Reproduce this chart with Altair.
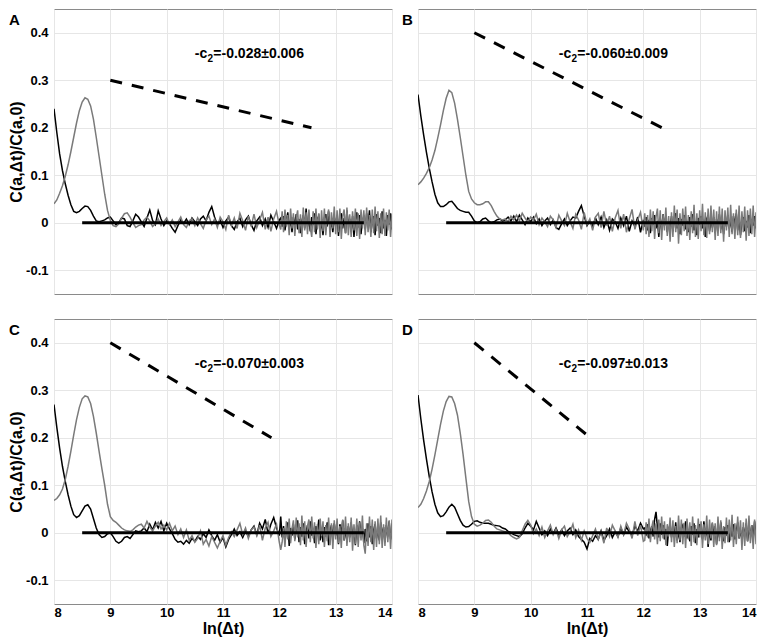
import altair as alt
import pandas as pd

FONT = "Liberation Sans"

# sampling positions along ln(dt)
X_SEG1 = [round(8.00 + 0.05 * i, 3) for i in range(31)]
X_SEG2 = [round(9.55 + 0.05 * i, 3) for i in range(50)]
X_SEG3 = [round(12.025 + 0.025 * i, 3) for i in range(80)]
X_GRID = X_SEG1 + X_SEG2 + X_SEG3

X_TICKS = [8, 9, 10, 11, 12, 13, 14]
Y_TICKS = [-0.1, 0, 0.1, 0.2, 0.3, 0.4]

# curve values, in thousandths
A_BLACK_1 = [240,190,145,110,82,58,38,24,21,24, 30,35,34,26,14,4,2,4,6,10, 12,4,-4,0,10,8,-6,-8,4,18, 12]
A_GRAY_1 = [40,48,62,78,98,122,150,180,210,236, 254,263,260,246,218,180,140,100,60,26, 5,-6,-8,-2,10,19,21,12,0,-10, -6]
A_BLACK_2 = [2,-8,10,27,5,-4,25,8,-6,4, -2,-12,-20,-6,6,-2,8,-4,10,2, -6,8,14,4,22,34,12,-4,6,-10, 4,12,-6,-14,2,10,-8,6,14,-4, -16,4,12,-6,8,-10,16,2,-12,6]
A_GRAY_2 = [-4,6,12,4,-8,-2,8,-6,2,10, -4,6,-8,2,12,-4,-10,4,8,-6, 10,-2,-12,6,14,-4,8,-10,12,2, -14,16,-6,10,-12,20,4,-16,14,-8, 18,-10,6,22,-14,12,-18,8,24,-6]
A_BLACK_3 = [10,-8,14,-16,4,22,-10,6,-20,12, -6,18,-14,8,-22,4,16,-12,30,-8, 6,-18,12,-4,20,-24,8,14,-16,2, -26,10,18,-8,24,-14,4,-20,12,-6,
             16,-28,6,20,-12,10,-22,26,-4,8, -18,14,-30,4,22,-10,16,-24,6,12, -14,20,-8,26,-20,2,14,-26,18,-6, 10,-22,24,-12,6,-28,16,-4,20,-14]
A_GRAY_3 = [-14,24,-20,28,-8,16,-26,30,-12,20, -28,10,26,-22,18,-30,32,-16,22,-24, 28,-10,-30,24,-20,30,-14,20,-32,26, -18,30,-26,12,28,-30,22,-12,34,-24,
            26,-20,30,-34,14,28,-22,32,-26,18, -30,24,-16,30,-28,20,-34,28,-12,26, -26,32,-20,16,-30,28,-22,34,-18,24, -32,20,-24,30,-28,22,-16,28,-30,18]

B_BLACK_1 = [270,225,185,148,115,86,60,42,34,34, 38,44,45,38,30,26,24,22,22,14, 4,0,2,8,10,4,0,2,6,8, 4]
B_GRAY_1 = [80,86,94,104,116,132,152,178,206,236, 262,279,274,252,218,180,140,100,66,50, 42,38,38,40,44,44,36,24,14,8, 6]
B_BLACK_2 = [6,12,4,14,2,16,6,-4,10,2, 12,-2,8,-6,4,10,-4,6,-10,-14, -2,8,-6,4,12,10,24,36,14,-6, 4,-8,10,-4,12,-10,6,-16,8,2, -12,10,-6,14,-18,4,-8,12,-20,6]
B_GRAY_2 = [8,2,14,6,16,4,20,10,2,12, 6,18,-4,10,2,-8,14,6,-10,16, 4,-6,20,2,-12,18,6,-14,22,-4, 8,-16,12,20,-10,24,-6,14,-18,10, 26,-12,18,-20,8,28,-14,6,22,-16]
B_BLACK_3 = [-8,12,-16,6,-22,10,-4,16,-12,4, -30,8,-14,18,-6,12,-20,4,-10,14, -18,6,20,-12,10,-24,8,-6,16,-14, 4,-20,12,-8,18,-16,2,-26,10,-4,
             14,-12,6,-30,8,16,-18,4,-10,12, -22,8,-6,18,-14,4,-24,10,-8,16, -12,6,-20,14,-4,20,-16,8,-26,2, 12,-18,4,-10,16,-22,8,-6,14,-12]
B_GRAY_3 = [20,-24,16,-30,28,-18,24,-34,12,30, -22,26,-36,18,-16,32,-28,14,-40,22, -30,36,-20,28,-44,20,-26,30,-18,34, -28,16,-36,24,-22,38,-30,20,-34,26,
            -18,40,-26,22,-32,30,-24,36,-20,28, -36,24,-28,34,-22,30,-40,26,-16,32, -30,38,-24,20,-34,28,-26,36,-32,24, -20,34,-38,26,-28,30,-24,36,-30,22]

C_BLACK_1 = [270,222,178,140,108,80,56,38,32,36, 46,56,59,50,30,10,-4,-10,-8,-2, 0,-8,-18,-22,-18,-10,-8,-12,-4,4, 2]
C_GRAY_1 = [68,72,80,92,112,140,172,206,238,264, 282,288,286,272,245,210,172,135,100,60, 34,26,22,16,10,6,4,3,6,12, 16]
C_BLACK_2 = [4,10,2,18,6,22,10,24,4,20, 8,-2,-14,-20,-18,-24,-16,-22,-12,-18, -8,-14,-2,-10,6,-6,-16,-4,-20,-10, -30,-14,-4,8,-6,2,-10,4,-8,6, 14,-4,20,8,28,-2,18,32,10,-6]
C_GRAY_2 = [18,10,24,12,4,14,22,8,16,6, 20,4,14,-4,8,-10,6,-16,-6,-20, -12,4,-24,-14,-28,-8,-20,-32,-18,-6, -26,-10,2,-8,6,20,-4,10,-12,6, 12,-6,16,-16,10,22,-8,4,18,-20]
C_BLACK_3 = [34,-10,14,-18,6,22,-28,10,-6,18, -14,4,26,-20,12,-8,20,-24,2,16, -12,24,-6,10,-22,14,-4,28,-16,6, -20,12,-8,22,-26,4,16,-12,20,-6,
             10,-24,18,-4,26,-16,8,-20,14,-10, 22,-8,4,-26,16,-14,24,-6,10,-22, 8,-18,20,-10,14,-24,6,18,-12,4, -16,22,-6,12,-20,16,-8,24,-14,6]
C_GRAY_3 = [-36,-20,10,-30,24,-14,30,-22,8,26, -18,32,-10,20,-26,36,-16,24,-30,14, 28,-20,34,-12,22,-32,18,-24,30,-8, 24,-30,16,-18,32,-26,20,-34,26,-14,
            30,-22,14,-32,28,-16,34,-28,20,-20, 32,-38,18,-24,30,-30,22,-16,36,-26, -44,20,-28,34,-20,28,-36,24,-30,30, -24,36,-32,18,-28,32,-20,26,-34,28]

D_BLACK_1 = [290,240,195,155,118,86,60,42,34,36, 44,54,60,54,40,26,16,12,13,18, 24,25,22,20,20,20,18,16,15,14, 10]
D_GRAY_1 = [53,60,72,88,108,134,164,196,228,256, 276,287,286,272,248,210,165,115,66,34, 18,14,16,20,26,27,22,14,8,6, 4]
D_BLACK_2 = [8,3,0,-4,-6,-8,-2,10,20,14, 6,24,10,-4,4,-6,8,-2,10,-4, 6,-6,4,10,-4,6,-8,-14,-20,-34, -12,-18,-6,-14,4,-16,-6,8,-10,2, -8,10,-4,12,2,-6,14,4,20,8]
D_GRAY_2 = [2,0,-6,-10,-13,-10,4,18,26,16, -2,8,-6,12,-10,4,16,-4,8,-12, 6,14,-8,2,18,-10,6,-16,4,-12, -20,-6,8,-14,2,-22,10,-8,16,4, -10,14,-4,20,8,-12,24,-6,16,-18]
D_BLACK_3 = [10,-6,18,-12,4,14,-8,28,44,12, -10,20,-4,16,-14,8,-28,6,18,-10, 12,-6,22,-16,4,-20,10,16,-8,24, -12,6,-18,14,-4,20,-22,8,-10,18,
             4,-14,24,-8,12,-30,6,-16,20,-6, 14,-24,8,-10,22,-4,-18,12,-6,16, -20,10,-8,18,-14,4,22,-12,6,-16, 12,-6,20,-18,8,-4,16,-10,24,-8]
D_GRAY_3 = [-16,22,-10,30,-20,12,26,-14,20,-24, 28,-18,34,-12,24,-26,18,-8,32,-20, 26,-30,14,-22,36,-16,28,-24,20,-32, 30,-14,22,-28,34,-20,16,-26,30,-10,
            24,-32,18,-16,36,-24,28,-12,22,-30, 20,-26,34,-18,26,-34,14,-22,32,-20, 28,-16,38,-30,20,-24,34,-12,26,-36, 22,-28,30,-18,36,-22,16,-34,28,-24]

BLACK = [A_BLACK_1 + A_BLACK_2 + A_BLACK_3, B_BLACK_1 + B_BLACK_2 + B_BLACK_3,
         C_BLACK_1 + C_BLACK_2 + C_BLACK_3, D_BLACK_1 + D_BLACK_2 + D_BLACK_3]
GRAY = [A_GRAY_1 + A_GRAY_2 + A_GRAY_3, B_GRAY_1 + B_GRAY_2 + B_GRAY_3,
        C_GRAY_1 + C_GRAY_2 + C_GRAY_3, D_GRAY_1 + D_GRAY_2 + D_GRAY_3]

LETTERS = ["A", "B", "C", "D"]
C2_TEXT = ["=-0.028\u00b10.006", "=-0.060\u00b10.009", "=-0.070\u00b10.003", "=-0.097\u00b10.013"]
DASH_X0 = [9, 9, 9, 9]
DASH_Y0 = [0.3, 0.4, 0.4, 0.4]
DASH_X1 = [12.57, 12.33, 11.86, 11.06]
DASH_Y1 = [0.2, 0.2, 0.2, 0.2]
ZERO_X = [8.5, 13.5]
TEXT_X = 10.5
TEXT_Y = 0.355

for lst in BLACK + GRAY:
    if len(lst) != len(X_GRID):
        raise ValueError(f"length mismatch {len(lst)} vs {len(X_GRID)}")

Y_LABEL_EXPR = ("datum.value == 0 ? '0' : (datum.value < 0 ? '-' + format(-datum.value, '.1f') "
                ": format(datum.value, '.1f'))")


def make_panel(k):
    show_x = k >= 2
    show_y = k % 2 == 0
    xenc = alt.X("x:Q", scale=alt.Scale(domain=[8, 14], nice=False, zero=False),
                 axis=alt.Axis(values=X_TICKS, format="d", labels=show_x, grid=True,
                               ticks=False, domain=False, labelPadding=2, titlePadding=1),
                 title="ln(\u0394t)" if show_x else None)
    yenc = alt.Y("y:Q", scale=alt.Scale(domain=[-0.15, 0.45], nice=False, zero=False),
                 axis=alt.Axis(values=Y_TICKS, labelExpr=Y_LABEL_EXPR, labels=show_y, grid=True,
                               ticks=False, domain=False, labelPadding=6, titlePadding=1),
                 title="C(a,\u0394t)/C(a,0)" if show_y else None)

    df_black = pd.DataFrame({"x": X_GRID, "y": [v / 1000 for v in BLACK[k]]})
    df_gray = pd.DataFrame({"x": X_GRID, "y": [v / 1000 for v in GRAY[k]]})
    df_zero = pd.DataFrame({"x": ZERO_X, "y": [0, 0]})
    df_dash = pd.DataFrame({"x": [DASH_X0[k], DASH_X1[k]], "y": [DASH_Y0[k], DASH_Y1[k]]})

    black = alt.Chart(df_black).mark_line(color="black", strokeWidth=1.5, clip=True).encode(x=xenc, y=yenc)
    gray = alt.Chart(df_gray).mark_line(color="#7a7a7a", strokeWidth=1.5, clip=True).encode(x=xenc, y=yenc)
    zero = alt.Chart(df_zero).mark_line(color="black", strokeWidth=3).encode(x=xenc, y=yenc)
    dash = alt.Chart(df_dash).mark_line(color="black", strokeWidth=3, strokeDash=[12, 10],
                                        strokeCap="butt").encode(x=xenc, y=yenc)

    tdf = pd.DataFrame({"x": [TEXT_X], "y": [TEXT_Y], "a": ["-c"], "b": ["2"], "c": [C2_TEXT[k]]})
    t1 = alt.Chart(tdf).mark_text(align="left", baseline="middle", font=FONT, fontWeight="bold",
                                  fontSize=14, color="black").encode(x=xenc, y=yenc, text="a:N")
    t2 = alt.Chart(tdf).mark_text(align="left", baseline="middle", font=FONT, fontWeight="bold",
                                  fontSize=10, dx=12.6, dy=5, color="black").encode(x=xenc, y=yenc, text="b:N")
    t3 = alt.Chart(tdf).mark_text(align="left", baseline="middle", font=FONT, fontWeight="bold",
                                  fontSize=14, dx=18.5, color="black").encode(x=xenc, y=yenc, text="c:N")

    letter = alt.Chart(pd.DataFrame({"t": [LETTERS[k]]})).mark_text(
        align="left", baseline="middle", font=FONT, fontWeight="bold", fontSize=15, color="black"
    ).encode(x=alt.value(-45 if show_y else -16), y=alt.value(11), text="t:N")

    return alt.layer(black, gray, zero, dash, t1, t2, t3, letter).properties(width=338, height=285)


chart = alt.concat(*[make_panel(k) for k in range(4)], columns=2,
                   spacing={"row": 25, "column": 26}, bounds="flush").properties(
    padding=0, background="white"
).configure_view(
    stroke="#8a8a8a", strokeWidth=1
).configure_axis(
    labelFont=FONT, labelFontWeight="bold", labelFontSize=13, labelColor="black",
    titleFont=FONT, titleFontWeight="bold", titleFontSize=16, titleColor="black",
    gridColor="#e6e6e6", gridWidth=1
)

chart.save("out.html", embed_options={"renderer": "svg", "actions": False})
